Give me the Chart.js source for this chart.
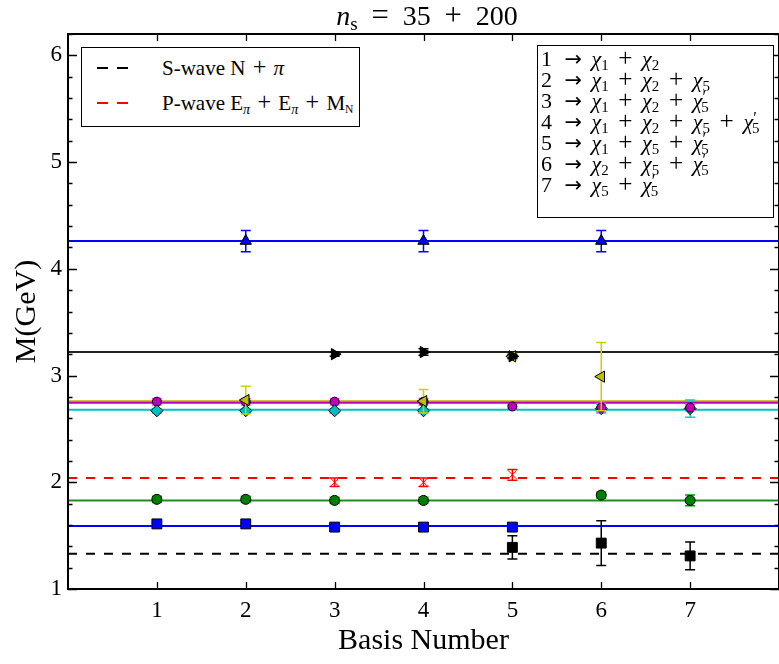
<!DOCTYPE html>
<html><head><meta charset="utf-8">
<script src="https://cdn.jsdelivr.net/npm/chart.js@4/dist/chart.umd.min.js"></script>
<style>
html,body{margin:0;padding:0;background:#fff;overflow:hidden;width:779px;height:664px;}
#wrap{position:relative;width:779px;height:664px;overflow:hidden;}
canvas{position:absolute;left:0;top:0;}
.t{position:absolute;font-family:"Liberation Serif",serif;color:#000;white-space:nowrap;}
.box{position:absolute;border:1.5px solid #000;background:#fff;box-sizing:border-box;}
.row{position:absolute;font-family:"Liberation Serif",serif;font-size:21px;line-height:22px;white-space:nowrap;}
.d{position:absolute;height:2px;width:11px;}
.rl{position:absolute;left:3px;font-family:"Liberation Serif",serif;font-size:22px;line-height:21px;white-space:nowrap;}
i{font-style:italic;}
sub{font-size:0.68em;vertical-align:-0.28em;line-height:0;}
sup{font-size:0.75em;vertical-align:0.35em;line-height:0;}
.ps{margin-left:-0.32em;}
.op{font-size:1.15em;margin:0 0.38em;line-height:0;}
.lop{font-size:1.15em;margin:0 0.3em;line-height:0;}
.ar{font-family:"DejaVu Sans",sans-serif;font-size:0.95em;margin:0 0.45em 0 0.6em;line-height:0;}
.eq{font-size:1.1em;margin:0 0.45em;}
</style></head><body>
<div id="wrap">
<canvas id="c" width="787" height="664"></canvas>
<div class="t" style="left:68px;width:718px;top:-2px;text-align:center;font-size:28px;"><i>n</i><sub>s</sub><span class="eq">=</span>35<span class="eq">+</span>200</div>

<div class="box" style="left:81px;top:47px;width:279px;height:80px;">
  <div class="d" style="left:15px;top:19px;background:#000;"></div>
  <div class="d" style="left:35px;top:19px;background:#000;"></div>
  <div class="row" style="left:80px;top:9px;">S-wave N<span class="lop">+</span><i>π</i></div>
  <div class="d" style="left:15px;top:54px;background:#ff0000;"></div>
  <div class="d" style="left:35px;top:54px;background:#ff0000;"></div>
  <div class="row" style="left:80px;top:44px;">P-wave E<sub><i>π</i></sub><span class="lop">+</span>E<sub><i>π</i></sub><span class="lop">+</span>M<sub style="font-size:0.55em">N</sub></div>
</div>

<div class="box" style="left:537px;top:45px;width:237px;height:173px;">
  <div class="rl" style="top:2px;">1<span class="ar">→</span><i>χ</i><sub>1</sub><span class="op">+</span><i>χ</i><sub>2</sub></div>
  <div class="rl" style="top:23px;">2<span class="ar">→</span><i>χ</i><sub>1</sub><span class="op">+</span><i>χ</i><sub>2</sub><span class="op">+</span><i>χ</i><sub>5</sub></div>
  <div class="rl" style="top:44px;">3<span class="ar">→</span><i>χ</i><sub>1</sub><span class="op">+</span><i>χ</i><sub>2</sub><span class="op">+</span><i>χ</i><sup>′</sup><sub class="ps">5</sub></div>
  <div class="rl" style="top:65px;">4<span class="ar">→</span><i>χ</i><sub>1</sub><span class="op">+</span><i>χ</i><sub>2</sub><span class="op">+</span><i>χ</i><sub>5</sub><span class="op">+</span><i>χ</i><sup>′</sup><sub class="ps">5</sub></div>
  <div class="rl" style="top:86px;">5<span class="ar">→</span><i>χ</i><sub>1</sub><span class="op">+</span><i>χ</i><sub>5</sub><span class="op">+</span><i>χ</i><sup>′</sup><sub class="ps">5</sub></div>
  <div class="rl" style="top:107px;">6<span class="ar">→</span><i>χ</i><sub>2</sub><span class="op">+</span><i>χ</i><sub>5</sub><span class="op">+</span><i>χ</i><sup>′</sup><sub class="ps">5</sub></div>
  <div class="rl" style="top:128px;">7<span class="ar">→</span><i>χ</i><sub>5</sub><span class="op">+</span><i>χ</i><sup>′</sup><sub class="ps">5</sub></div>
</div>
</div>
<script>
// ---- data ----
const xTicks = [1, 2, 3, 4, 5, 6, 7];
const yTicks = [1, 2, 3, 4, 5, 6];

const triUpX = [2, 4, 6];             const triUpY = [4.26, 4.26, 4.26];        const triUpE = [0.10, 0.10, 0.10];
const triRX  = [3, 4, 5];             const triRY  = [3.20, 3.22, 3.18];        const triRE  = [0.02, 0.03, 0.02];
const triLX  = [2, 4, 5, 6];          const triLY  = [2.77, 2.76, 3.18, 2.99];  const triLE  = [0.13, 0.11, 0.02, 0.32];
const magAX  = [1, 2, 3, 4];          const magAY  = [2.755, 2.755, 2.755, 2.755]; const magAE = [0.03, 0.03, 0.03, 0.03];
const magBX  = [5, 6, 7];             const magBY  = [2.71, 2.70, 2.70];        const magBE  = [0.02, 0.04, 0.03];
const cyaX   = [1, 2, 3, 4, 6, 7];    const cyaY   = [2.67, 2.67, 2.67, 2.67, 2.69, 2.69]; const cyaE = [0.02, 0.02, 0.02, 0.02, 0.04, 0.08];
const redX   = [3, 4, 5];             const redY   = [2.00, 2.00, 2.07];        const redE   = [0.04, 0.04, 0.05];
const grnX   = [1, 2, 3, 4, 6, 7];    const grnY   = [1.84, 1.84, 1.83, 1.83, 1.88, 1.83]; const grnE = [0.03, 0.03, 0.03, 0.03, 0.03, 0.05];
const sqBX   = [1, 2, 3, 4, 5];       const sqBY   = [1.61, 1.61, 1.58, 1.58, 1.58]; const sqBE = [0.01, 0.01, 0.01, 0.01, 0.01];
const sqKX   = [5, 6, 7];             const sqKY   = [1.39, 1.43, 1.31];        const sqKE   = [0.11, 0.21, 0.13];

// fitted constant levels
const fitTriUp = 4.26, fitTriR = 3.22, fitTriL = 2.76, fitMag = 2.745, fitCya = 2.68;
const fitRed = 2.04, fitGrn = 1.83, fitSqB = 1.59, fitSqK = 1.33;
const xRange = [0, 8];

const pts = (xs, ys) => xs.map((x, i) => ({x, y: ys[i]}));
const lvl = v => xRange.map(x => ({x, y: v}));

function series(xs, ys, es, style, bg, border, radius, rot, errColor) {
  return {data: pts(xs, ys), errors: es, errColor, showLine: false, pointStyle: style,
    pointRadius: radius, pointHoverRadius: radius, pointRotation: rot || 0,
    backgroundColor: bg, borderColor: border, pointBorderWidth: 1, order: 1};
}
function level(v, color, dash) {
  return {data: lvl(v), showLine: true, pointRadius: 0, borderColor: color, borderWidth: 2,
    borderDash: dash || [], order: 10, fill: false};
}

// listed bottom-to-top in drawing order
const datasets = [
  level(fitSqK, '#000000', [9, 9]),
  level(fitRed, '#ff0000', [9, 9]),
  level(fitTriUp, '#0000ff'),
  level(fitTriR, '#222222'),
  level(fitCya, '#00bfbf'),
  level(fitMag, '#bf00bf'),
  level(fitTriL, '#bfaf00'),
  level(fitGrn, '#228b22'),
  level(fitSqB, '#0000ff'),
  series(sqKX, sqKY, sqKE, 'rect', '#000000', '#000000', 7, 0, '#000000'),
  series(sqBX, sqBY, sqBE, 'rect', '#0000ff', '#000000', 7, 0, '#0000ff'),
  series(grnX, grnY, grnE, 'circle', '#008000', '#000000', 5, 0, '#00a000'),
  series(redX, redY, redE, 'crossRot', '#ff0000', '#ff0000', 6, 0, '#ff0000'),
  series(magAX, magAY, magAE, 'circle', '#bf00bf', '#000000', 4.5, 0, '#ff40ff'),
  series(cyaX, cyaY, cyaE, 'rectRot', '#00bfbf', '#000000', 6, 0, '#00d0d0'),
  series(magBX, magBY, magBE, 'circle', '#bf00bf', '#000000', 4.5, 0, '#ff40ff'),
  series(triLX, triLY, triLE, 'triangle', '#bfbf00', '#000000', 6.5, -90, '#d0d000'),
  series(triRX, triRY, triRE, 'triangle', '#000000', '#000000', 6.5, 90, '#000000'),
  series(triUpX, triUpY, triUpE, 'triangle', '#0000ff', '#000000', 6.5, 0, '#0000ff'),
];
datasets.forEach((d, i) => { if (d.order === 1) d.order = 1 + (datasets.length - i) * 0.01; });

const errorBars = {
  id: 'errorBars',
  beforeDatasetDraw(chart, args) {
    const ds = chart.data.datasets[args.index];
    if (!ds.errors) return;
    const {ctx, scales: {x, y}} = chart;
    ctx.save();
    ctx.strokeStyle = ds.errColor; ctx.lineWidth = 1.5;
    ds.data.forEach((p, i) => {
      const e = ds.errors[i];
      const px = x.getPixelForValue(p.x);
      const y1 = y.getPixelForValue(p.y - e), y2 = y.getPixelForValue(p.y + e);
      ctx.beginPath();
      ctx.moveTo(px, y1); ctx.lineTo(px, y2);
      ctx.moveTo(px - 5, y1); ctx.lineTo(px + 5, y1);
      ctx.moveTo(px - 5, y2); ctx.lineTo(px + 5, y2);
      ctx.stroke();
    });
    ctx.restore();
  }
};

const frame = {
  id: 'frame',
  afterDatasetsDraw(chart) {
    const {ctx, chartArea: a, scales: {x, y}} = chart;
    ctx.save();
    ctx.strokeStyle = '#000'; ctx.lineWidth = 1.3;
    ctx.beginPath();
    xTicks.forEach(v => {
      const px = Math.round(x.getPixelForValue(v)) + 0.5;
      ctx.moveTo(px, a.bottom); ctx.lineTo(px, a.bottom - 7);
      ctx.moveTo(px, a.top); ctx.lineTo(px, a.top + 7);
    });
    for (let k = 0; k <= 26; k++) {
      const v = 1 + k * 0.2;
      const py = Math.round(y.getPixelForValue(v)) + 0.5;
      const len = (k % 5 === 0) ? 9 : 4.5;
      ctx.moveTo(a.left, py); ctx.lineTo(a.left + len, py);
      ctx.moveTo(a.right, py); ctx.lineTo(a.right - len, py);
    }
    ctx.stroke();
    ctx.lineWidth = 2;
    ctx.strokeRect(a.left, a.top, a.right - a.left, a.bottom - a.top);
    ctx.restore();
  }
};

new Chart(document.getElementById('c'), {
  type: 'scatter',
  data: {datasets},
  options: {
    responsive: false, animation: false,
    layout: {padding: {top: 34, right: 1, left: 0, bottom: 0}},
    plugins: {legend: {display: false}, tooltip: {enabled: false}},
    scales: {
      x: {type: 'linear', min: xRange[0], max: xRange[1],
        afterFit: s => { s.height = 75; },
        afterBuildTicks: s => { s.ticks = xTicks.map(v => ({value: v})); },
        grid: {display: false, drawTicks: false}, border: {display: false},
        ticks: {padding: 8, color: '#000', font: {family: 'Liberation Serif', size: 23}},
        title: {display: true, text: 'Basis Number', color: '#000', padding: {top: 0, bottom: 5},
          font: {family: 'Liberation Serif', size: 30}}},
      y: {type: 'linear', min: 1, max: 6.2,
        afterFit: s => { s.width = 68; },
        afterBuildTicks: s => { s.ticks = yTicks.map(v => ({value: v})); },
        grid: {display: false, drawTicks: false}, border: {display: false},
        ticks: {padding: 6, color: '#000', font: {family: 'Liberation Serif', size: 23}},
        title: {display: true, text: 'M(GeV)', color: '#000', padding: {top: 9, bottom: 0},
          font: {family: 'Liberation Serif', size: 30}}}
    }
  },
  plugins: [errorBars, frame]
});
</script>
</body></html>
